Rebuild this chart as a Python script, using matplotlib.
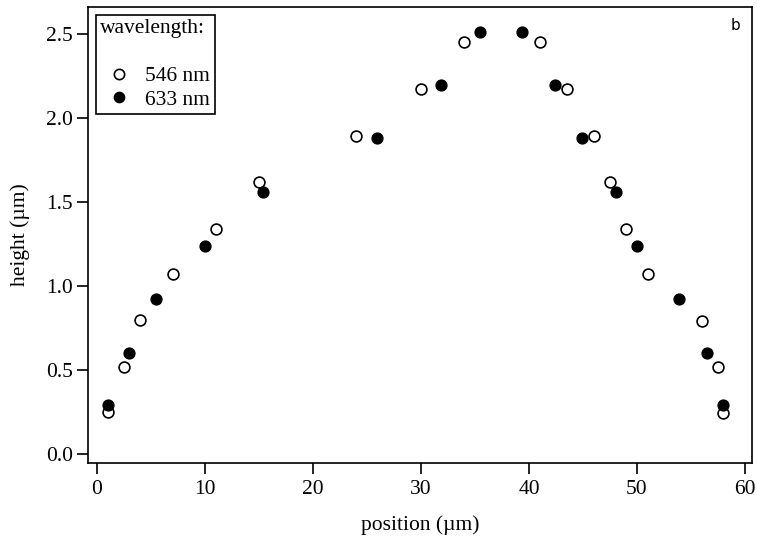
import matplotlib
matplotlib.use('Agg')
import matplotlib.pyplot as plt

# 546 nm (open circles)
pos_546 = [1.0, 2.5, 4.0, 7.0, 11.0, 15.0, 24.0, 30.0, 34.0,
           41.0, 43.5, 46.0, 47.5, 49.0, 51.0, 56.0, 57.5, 58.0]
h_546 = [0.25, 0.52, 0.80, 1.07, 1.34, 1.62, 1.89, 2.17, 2.45,
         2.45, 2.17, 1.89, 1.62, 1.34, 1.07, 0.79, 0.52, 0.245]

# 633 nm (filled circles)
pos_633 = [1.0, 2.95, 5.45, 10.0, 15.4, 25.9, 31.9, 35.5,
           39.4, 42.4, 44.9, 48.1, 50.0, 53.9, 56.5, 58.0]
h_633 = [0.29, 0.60, 0.92, 1.24, 1.56, 1.88, 2.195, 2.51,
         2.51, 2.195, 1.88, 1.56, 1.235, 0.92, 0.60, 0.29]

xticks = [0, 10, 20, 30, 40, 50, 60]
yticks = [0.0, 0.5, 1.0, 1.5, 2.0, 2.5]

plt.rcParams['font.family'] = ['Liberation Serif', 'DejaVu Serif']
plt.rcParams['font.size'] = 15.5

fig = plt.figure(figsize=(7.57, 5.43), dpi=100)
ax = fig.add_axes([88/757, 1 - 463/543, (752 - 88)/757, (463 - 7)/543])

ax.plot(pos_546, h_546, linestyle='none', marker='o', markersize=7.8,
        markerfacecolor='white', markeredgecolor='black', markeredgewidth=1.2,
        label='546 nm')
ax.plot(pos_633, h_633, linestyle='none', marker='o', markersize=7.8,
        markerfacecolor='black', markeredgecolor='black',
        label='633 nm')

ax.set_xlim(-0.83, 60.65)
ax.set_ylim(-0.054, 2.66)
ax.set_xticks(xticks)
ax.set_yticks(yticks)
ax.set_yticklabels([f'{v:.1f}' for v in yticks])

ax.tick_params(direction='out', length=8, width=1.2, labelsize=15.5)
ax.tick_params(axis='x', pad=4)
ax.tick_params(axis='y', pad=3)
for s in ax.spines.values():
  s.set_linewidth(1.2)

ax.set_xlabel('position (µm)', fontsize=15.5, labelpad=12)
ax.set_ylabel('height (µm)', fontsize=15.5, labelpad=11)

leg = ax.legend(title='wavelength:\n', loc='upper left', frameon=True,
                fancybox=False, edgecolor='black', framealpha=1,
                alignment='left', fontsize=15.5, title_fontsize=15.5,
                borderaxespad=0.35, handlelength=1.75, handletextpad=0.37,
                borderpad=0.2, labelspacing=0.15, markerscale=0.95)
leg.get_title().set_linespacing(1.45)
leg.get_frame().set_linewidth(1.2)

ax.text(0.982, 0.975, 'b', transform=ax.transAxes, ha='right', va='top',
        fontsize=11, family='DejaVu Sans')

plt.savefig('out.png', dpi=100)
